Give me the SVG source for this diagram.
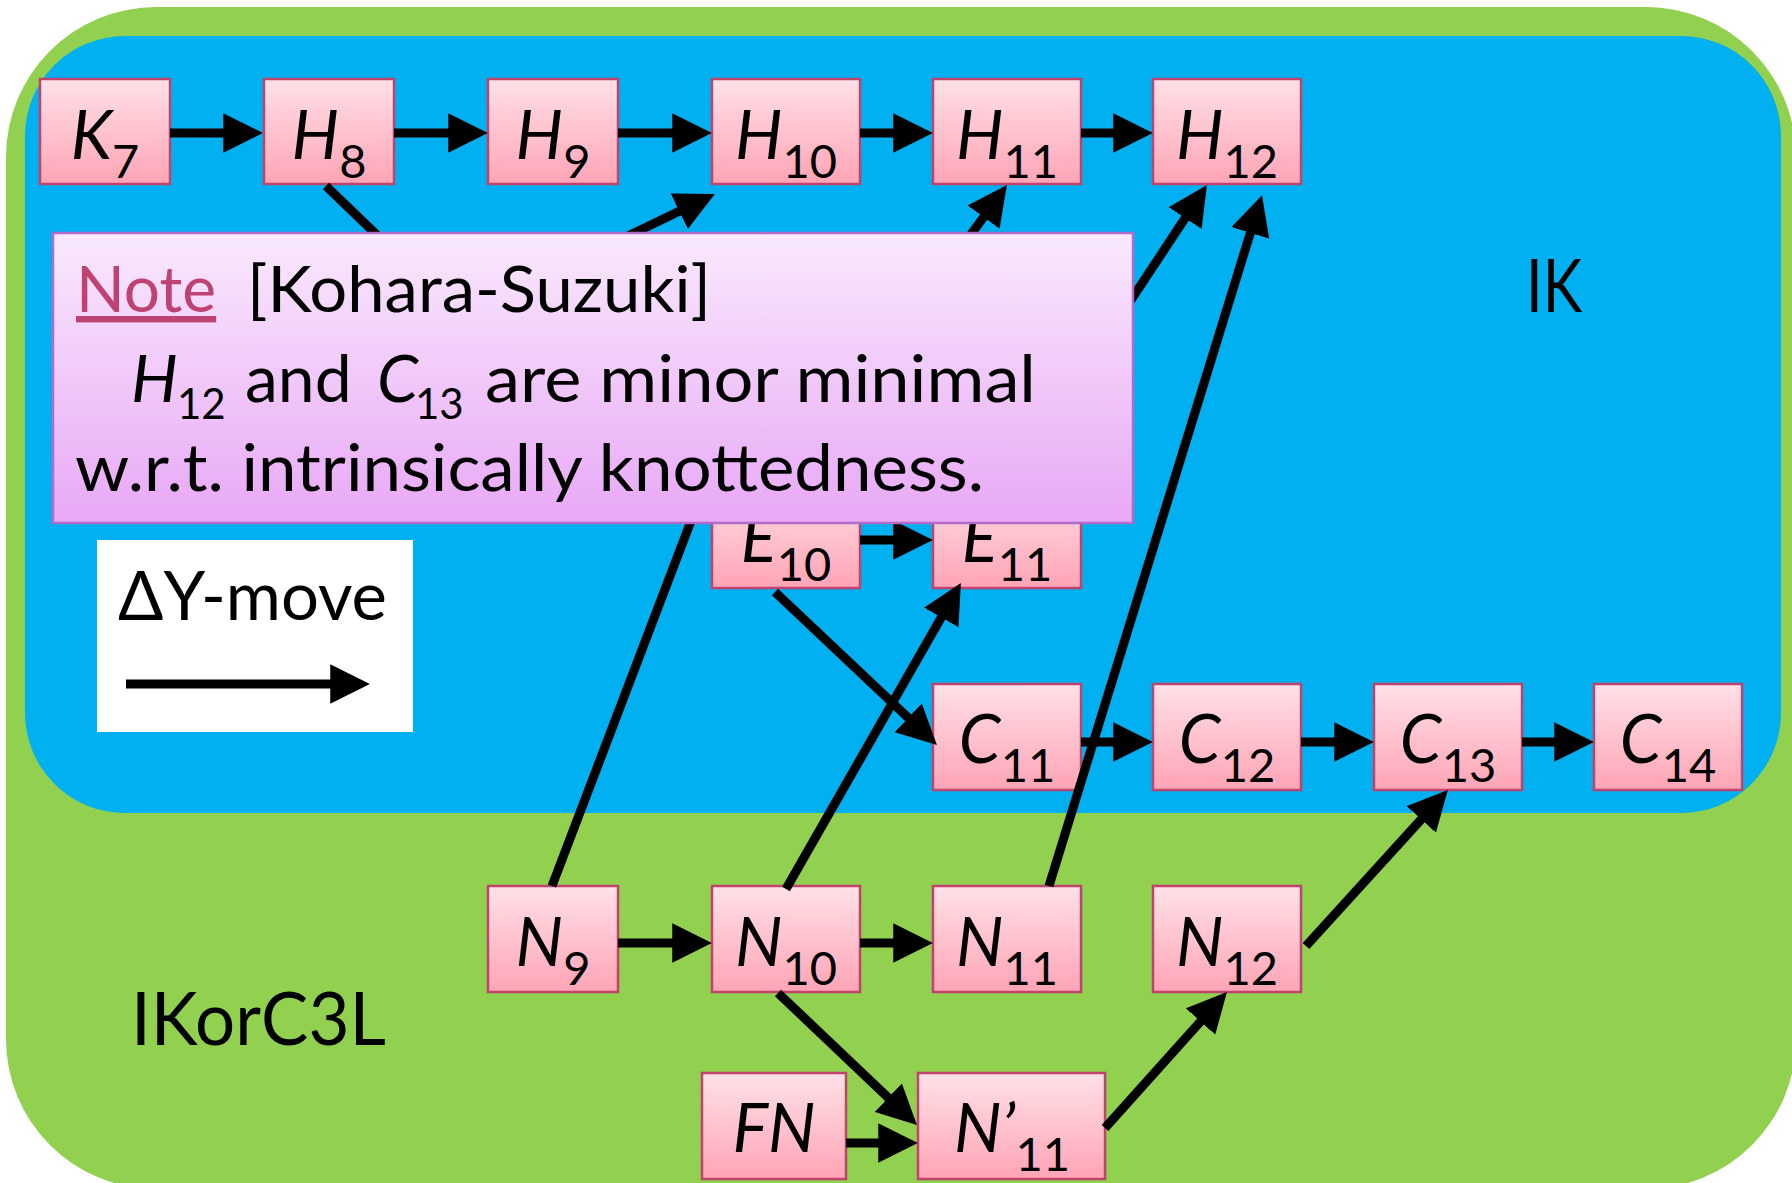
<svg xmlns="http://www.w3.org/2000/svg" width="1792" height="1183" viewBox="0 0 1792 1183">
<style>
.nd{stroke:#c0436d;stroke-width:2.5;fill:url(#pink)}
.lb{font-family:Lato,"Liberation Sans",sans-serif;font-size:67px;fill:#000;text-anchor:middle}
.it{font-style:italic}
.sb{font-size:47px}
.cn{stroke:#000;stroke-width:9;fill:none}
.ar{marker-end:url(#ah)}
.tx{font-family:Lato,"Noto Sans","DejaVu Sans",sans-serif;fill:#000}
</style>
<defs>
<linearGradient id="pink" x1="0" y1="0" x2="0" y2="1">
<stop offset="0" stop-color="#ffe1e7"/>
<stop offset="1" stop-color="#ffa4b6"/>
</linearGradient>
<linearGradient id="lav" x1="0" y1="0" x2="0" y2="1">
<stop offset="0" stop-color="#f9e9fc"/>
<stop offset="1" stop-color="#e8a8f6"/>
</linearGradient>
<marker id="ah" viewBox="0 0 10 10" refX="7" refY="5" markerWidth="4.4" markerHeight="4.4" orient="auto" markerUnits="strokeWidth">
<path d="M0,0 L10,5 L0,10 z" fill="#000"/>
</marker>
</defs>

<g id="regions">
<rect id="IKorC3L-region" x="6" y="7" width="1790" height="1182" rx="150" fill="#92d050"/>
<rect id="IK-region" x="25" y="36" width="1756" height="777" rx="100" fill="#00b0f0"/>
<text class="tx" x="1526" y="312" font-size="74" textLength="56" lengthAdjust="spacingAndGlyphs">IK</text>
<text class="tx" x="131" y="1045" font-size="73" textLength="255" lengthAdjust="spacingAndGlyphs">IKorC3L</text>
</g>

<g id="nodes">
<g id="K7"><rect class="nd" x="40" y="79" width="130" height="105"/><text class="lb" x="105" y="159"><tspan class="it">K</tspan><tspan class="sb" dy="19">7</tspan></text></g>
<g id="H8"><rect class="nd" x="264" y="79" width="130" height="105"/><text class="lb" x="329" y="159"><tspan class="it">H</tspan><tspan class="sb" dy="19">8</tspan></text></g>
<g id="H9"><rect class="nd" x="488" y="79" width="130" height="105"/><text class="lb" x="553" y="159"><tspan class="it">H</tspan><tspan class="sb" dy="19">9</tspan></text></g>
<g id="H10"><rect class="nd" x="712" y="79" width="148" height="105"/><text class="lb" x="786" y="159"><tspan class="it">H</tspan><tspan class="sb" dy="19">10</tspan></text></g>
<g id="H11"><rect class="nd" x="933" y="79" width="148" height="105"/><text class="lb" x="1007" y="159"><tspan class="it">H</tspan><tspan class="sb" dy="19">11</tspan></text></g>
<g id="H12"><rect class="nd" x="1153" y="79" width="148" height="105"/><text class="lb" x="1227" y="159"><tspan class="it">H</tspan><tspan class="sb" dy="19">12</tspan></text></g>
<g id="E10"><rect class="nd" x="712" y="483" width="148" height="105"/><text class="lb" x="786" y="562"><tspan class="it">E</tspan><tspan class="sb" dy="19">10</tspan></text></g>
<g id="E11"><rect class="nd" x="933" y="483" width="148" height="105"/><text class="lb" x="1007" y="562"><tspan class="it">E</tspan><tspan class="sb" dy="19">11</tspan></text></g>
<g id="C11"><rect class="nd" x="933" y="684" width="148" height="106"/><text class="lb" x="1007" y="763"><tspan class="it">C</tspan><tspan class="sb" dy="19">11</tspan></text></g>
<g id="C12"><rect class="nd" x="1153" y="684" width="148" height="106"/><text class="lb" x="1227" y="763"><tspan class="it">C</tspan><tspan class="sb" dy="19">12</tspan></text></g>
<g id="C13"><rect class="nd" x="1374" y="684" width="148" height="106"/><text class="lb" x="1448" y="763"><tspan class="it">C</tspan><tspan class="sb" dy="19">13</tspan></text></g>
<g id="C14"><rect class="nd" x="1594" y="684" width="148" height="106"/><text class="lb" x="1668" y="763"><tspan class="it">C</tspan><tspan class="sb" dy="19">14</tspan></text></g>
<g id="N9"><rect class="nd" x="488" y="886" width="130" height="106"/><text class="lb" x="553" y="966"><tspan class="it">N</tspan><tspan class="sb" dy="19">9</tspan></text></g>
<g id="N10"><rect class="nd" x="712" y="886" width="148" height="106"/><text class="lb" x="786" y="966"><tspan class="it">N</tspan><tspan class="sb" dy="19">10</tspan></text></g>
<g id="N11"><rect class="nd" x="933" y="886" width="148" height="106"/><text class="lb" x="1007" y="966"><tspan class="it">N</tspan><tspan class="sb" dy="19">11</tspan></text></g>
<g id="N12"><rect class="nd" x="1153" y="886" width="148" height="106"/><text class="lb" x="1227" y="966"><tspan class="it">N</tspan><tspan class="sb" dy="19">12</tspan></text></g>
<g id="FN"><rect class="nd" x="702" y="1073" width="144" height="106"/><text class="lb it" x="774" y="1152">FN</text></g>
<g id="N-prime-11"><rect class="nd" x="918" y="1073" width="187" height="106"/><text class="lb" x="1012" y="1152"><tspan class="it">N’</tspan><tspan class="sb" dy="19">11</tspan></text></g>
</g>

<g id="connectors">
<line class="cn ar" x1="170" y1="133" x2="251" y2="133"/>
<line class="cn ar" x1="394" y1="133" x2="476" y2="133"/>
<line class="cn ar" x1="618" y1="133" x2="700" y2="133"/>
<line class="cn ar" x1="860" y1="133" x2="921" y2="133"/>
<line class="cn ar" x1="1081" y1="133" x2="1141" y2="133"/>
<line class="cn ar" x1="860" y1="540" x2="921" y2="540"/>
<line class="cn ar" x1="1081" y1="742" x2="1141" y2="742"/>
<line class="cn ar" x1="1301" y1="742" x2="1362" y2="742"/>
<line class="cn ar" x1="1522" y1="742" x2="1582" y2="742"/>
<line class="cn ar" x1="618" y1="943" x2="700" y2="943"/>
<line class="cn ar" x1="860" y1="943" x2="921" y2="943"/>
<line class="cn ar" x1="846" y1="1143" x2="906" y2="1143"/>
<line class="cn" x1="326" y1="186" x2="460" y2="315"/>
<line class="cn ar" x1="460" y1="317" x2="704.2" y2="199.2"/>
<line class="cn ar" x1="790" y1="483" x2="999.9" y2="194.7"/>
<line class="cn ar" x1="1010" y1="483" x2="1200.4" y2="195"/>
<line class="cn ar" x1="1049" y1="886" x2="1258.5" y2="206.5"/>
<line class="cn ar" x1="786" y1="889" x2="955" y2="593.4"/>
<line class="cn ar" x1="775" y1="592" x2="928.3" y2="736.8"/>
<line class="cn ar" x1="1306" y1="946" x2="1439.9" y2="798.9"/>
<line class="cn ar" x1="778" y1="993" x2="908.3" y2="1116.7"/>
<line class="cn ar" x1="1105" y1="1128" x2="1219" y2="1000.9"/>
<line class="cn ar" x1="552" y1="886" x2="705.5" y2="482.9"/>
</g>

<g id="note">
<rect x="53" y="233" width="1080" height="290" fill="url(#lav)" stroke="#b36bc9" stroke-width="2.5"/>
<text class="tx" y="312" font-size="64"><tspan x="76" fill="#be4272" text-decoration="underline">Note</tspan><tspan x="247" textLength="464" lengthAdjust="spacingAndGlyphs">[Kohara-Suzuki]</tspan></text>
<text class="tx" y="402" font-size="66"><tspan x="131" font-style="italic">H</tspan><tspan x="177" dy="17" font-size="42">12</tspan><tspan x="245" dy="-17">and</tspan><tspan x="377" font-style="italic">C</tspan><tspan x="415" dy="17" font-size="42">13</tspan><tspan x="485" dy="-17" textLength="551" lengthAdjust="spacingAndGlyphs">are minor minimal</tspan></text>
<text class="tx" x="75" y="491" font-size="66" textLength="909" lengthAdjust="spacingAndGlyphs">w.r.t. intrinsically knottedness.</text>
</g>

<g id="legend">
<rect x="97" y="540" width="316" height="192" fill="#fff"/>
<text class="tx" x="118" y="620" font-size="67" textLength="269" lengthAdjust="spacingAndGlyphs">ΔY-move</text>
<line class="cn ar" x1="126" y1="684" x2="358" y2="684"/>
</g>
</svg>
